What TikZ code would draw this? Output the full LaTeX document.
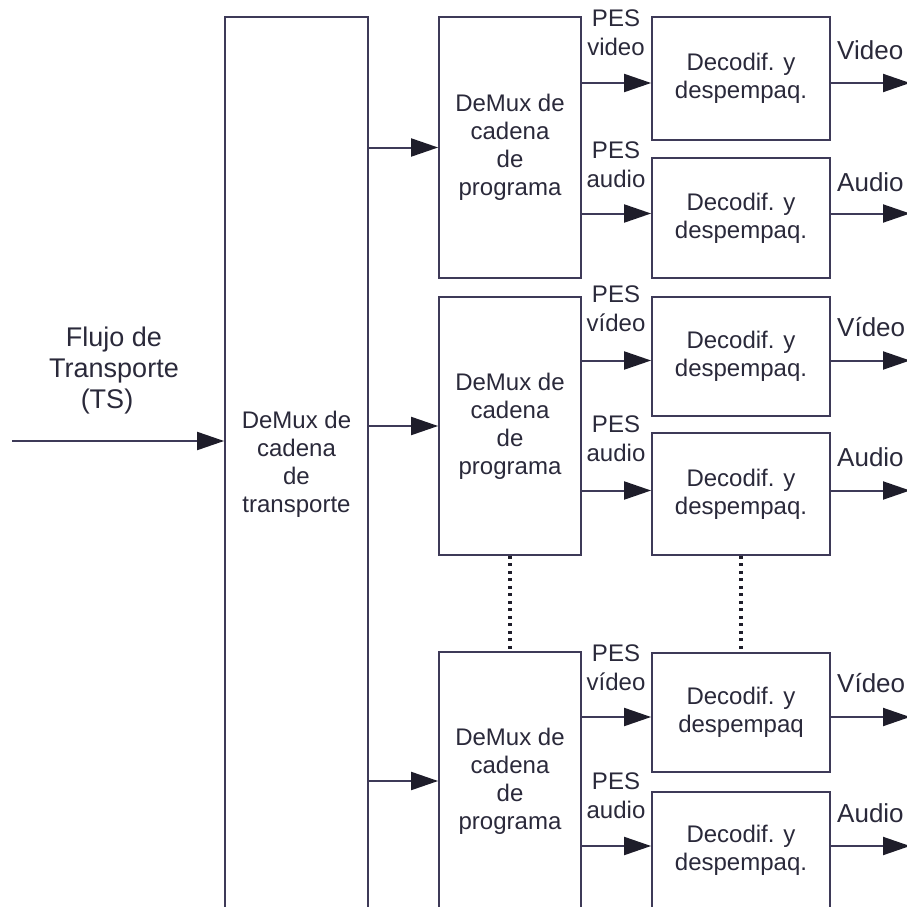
\documentclass[tikz,border=0pt]{standalone}
\usepackage{fontspec}
\setmainfont{Liberation Sans}
\usetikzlibrary{arrows.meta}
\definecolor{ink}{RGB}{62,58,88}
\definecolor{tipc}{RGB}{30,29,42}
\definecolor{txt}{RGB}{42,41,58}
\begin{document}
\begin{tikzpicture}[x=1pt,y=-1pt,
  blk/.style={draw=ink, line width=1.8pt, fill=white, inner sep=0pt, align=center,
    font=\fontsize{24}{28}\selectfont, text=txt},
  arr/.style={draw=ink, line width=2pt, -{Triangle[length=27pt,width=18pt,color=tipc]}},
  lbl/.style={font=\fontsize{24}{29}\selectfont, text=txt, align=center, inner sep=0pt},
  outlbl/.style={font=\fontsize{26}{30}\selectfont, text=txt, anchor=west, inner sep=0pt},
  dots/.style={draw=tipc, line width=3.5pt, dash pattern=on 3pt off 4.5pt}]
\useasboundingbox (0,0) rectangle (907,907);
\begin{scope}
\clip (0,0) rectangle (907,907);

% transport stream demultiplexer
\node[blk, minimum width=143pt, minimum height=894pt] (big) at (296.5,464)
  {DeMux de\\cadena\\de\\transporte};

% program stream demultiplexers
\node[blk, minimum width=142pt, minimum height=261pt] (dem1) at (510,147.5)
  {DeMux de\\cadena\\de\\programa};
\node[blk, minimum width=142pt, minimum height=258pt] (dem2) at (510,426)
  {DeMux de\\cadena\\de\\programa};
\node[blk, minimum width=142pt, minimum height=258pt] (dem3) at (510,781)
  {DeMux de\\cadena\\de\\programa};

% decoders
\node[blk, minimum width=178pt, minimum height=123pt] (dec1) at (741,78.5)
  {Decodif. y\\despempaq.};
\node[blk, minimum width=178pt, minimum height=120pt] (dec2) at (741,218)
  {Decodif. y\\despempaq.};
\node[blk, minimum width=178pt, minimum height=119pt] (dec3) at (741,356.5)
  {Decodif. y\\despempaq.};
\node[blk, minimum width=178pt, minimum height=122pt] (dec4) at (741,494)
  {Decodif. y\\despempaq.};
\node[blk, minimum width=178pt, minimum height=119pt] (dec5) at (741,712.5)
  {Decodif. y\\despempaq};
\node[blk, minimum width=178pt, minimum height=116pt] (dec6) at (741,850)
  {Decodif. y\\despempaq.};

% input stream
\coordinate (ts) at (12,441);
\node[lbl, font=\fontsize{27}{31}\selectfont] (tslbl) at (114,371)
  {Flujo de\\Transporte\\(TS)\hspace*{14pt}};
\draw[arr] (ts) -- (ts -| big.west);

% transport demux to program demuxes
\draw[arr] (big.east |- dem1.west) -- (dem1.west);
\draw[arr] (big.east |- dem2.west) -- (dem2.west);
\draw[arr] (big.east |- dem3.west) -- (dem3.west);

% elementary streams and outputs
\coordinate (rx) at (910,0);
\foreach \d/\s in {dec1/-4.5, dec2/4.5, dec3/-4, dec4/3.5, dec5/-4.5, dec6/4} {
  \coordinate (\d in) at ([yshift=\s pt]\d.west);
}
\draw[arr] (dec1in -| dem1.east) -- (dec1in);
\draw[arr] (dec2in -| dem1.east) -- (dec2in);
\draw[arr] (dec3in -| dem2.east) -- (dec3in);
\draw[arr] (dec4in -| dem2.east) -- (dec4in);
\draw[arr] (dec5in -| dem3.east) -- (dec5in);
\draw[arr] (dec6in -| dem3.east) -- (dec6in);
\foreach \d in {dec1,dec2,dec3,dec4,dec5,dec6} {
  \draw[arr] (\d.east |- \d in) -- (rx |- \d in);
}

% stream labels
\node[lbl] (p1) at (616,32.5) {PES\\video};
\node[lbl] (p2) at (616,165) {PES\\audio};
\node[lbl] (p3) at (616,309) {PES\\vídeo};
\node[lbl] (p4) at (616,439) {PES\\audio};
\node[lbl] (p5) at (616,667.5) {PES\\vídeo};
\node[lbl] (p6) at (616,796) {PES\\audio};

\node[outlbl] (o1) at (837,50) {Video};
\node[outlbl] (o2) at (837,182) {Audio};
\node[outlbl] (o3) at (837,327) {Vídeo};
\node[outlbl] (o4) at (837,457) {Audio};
\node[outlbl] (o5) at (837,683) {Vídeo};
\node[outlbl] (o6) at (837,813) {Audio};

% continuation marks
\draw[dots] (dem2.south) -- (dem3.north);
\draw[dots] (dec4.south) -- (dec5.north);
\end{scope}
\end{tikzpicture}
\end{document}
